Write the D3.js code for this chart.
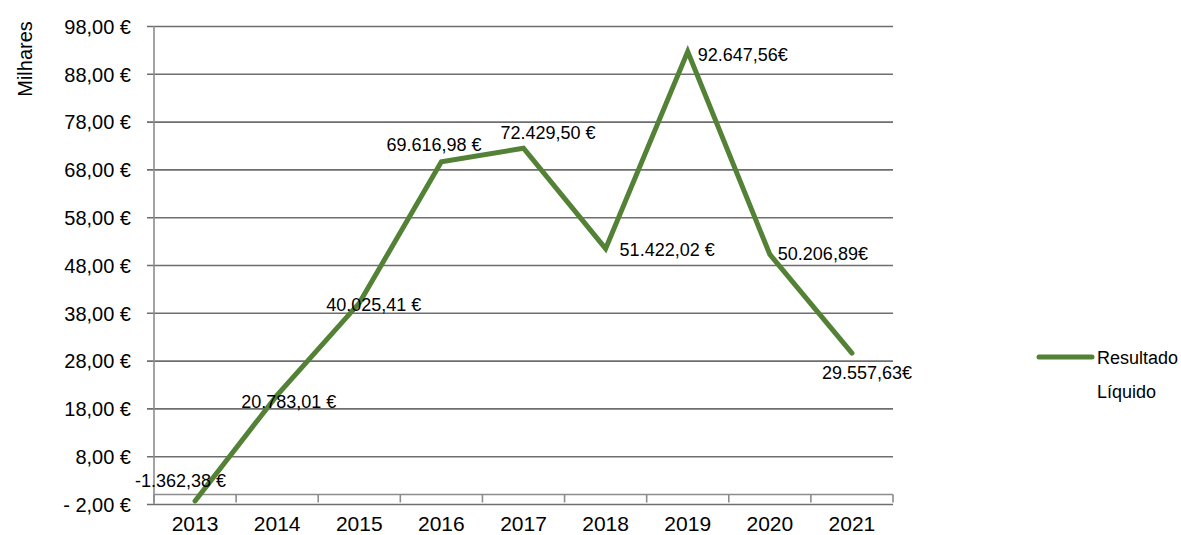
<!DOCTYPE html>
<html>
<head>
<meta charset="utf-8">
<script src="https://cdn.jsdelivr.net/npm/d3@7"></script>
<style>
  body { margin: 0; background: #fff; }
  text { font-family: "Liberation Sans", Arial, sans-serif; fill: #000; }
</style>
</head>
<body>
<div id="chart"></div>
<script>
// data
var years = ["2013", "2014", "2015", "2016", "2017", "2018", "2019", "2020", "2021"];
var resultado = [-1362.38, 20783.01, 40025.41, 69616.98, 72429.50, 51422.02, 92647.56, 50206.89, 29557.63];
var labelSuffix = [" €", " €", " €", " €", " €", " €", "€", "€", "€"];
var yTicks = [-2, 8, 18, 28, 38, 48, 58, 68, 78, 88, 98];
var seriesName = ["Resultado", "Líquido"];

var w = 1181;
var h = 535;
var padding = { top: 26, right: 288, bottom: 31, left: 154 };
var green = "#538135";
// label offsets from the point (dx, dy)
var labelPos = [[-60, -20], [-36, 7], [-33, 2], [-55, -17], [-23, -16], [14, 1], [10, 3], [8, -1], [-30, 20]];

var svg = d3.select("#chart").append("svg").attr("width", w).attr("height", h);

// scales
var xScale = d3.scaleBand().domain(years).range([padding.left, w - padding.right]);
var yScale = d3.scaleLinear().domain([-2, 98]).range([h - padding.bottom, padding.top]);

// grid + y axis
var yAxis = d3.axisLeft(yScale)
  .tickValues(yTicks)
  .tickSize(-(w - padding.right - padding.left))
  .tickFormat(function (d) {
    var s = d3.format(".2f")(Math.abs(d)).replace(".", ",");
    return (d < 0 ? "- " : "") + s + " €";
  });
var gy = svg.append("g")
  .attr("transform", "translate(" + padding.left + ",0)")
  .call(yAxis);
gy.select(".domain").remove();
gy.selectAll(".tick line").attr("stroke", "#6e6e6e").attr("stroke-width", 1.6).attr("x1", -7);
gy.selectAll(".tick text").style("font-size", "20px").attr("x", -23).attr("dy", "0.36em");

// vertical axis line
svg.append("line")
  .attr("x1", padding.left).attr("x2", padding.left)
  .attr("y1", yScale(98)).attr("y2", yScale(-2))
  .attr("stroke", "#8c8c8c").attr("stroke-width", 1.6);

// x axis at zero
var y0 = yScale(0);
svg.append("line")
  .attr("x1", padding.left).attr("x2", w - padding.right)
  .attr("y1", y0).attr("y2", y0)
  .attr("stroke", "#8c8c8c").attr("stroke-width", 1.6);
var bounds = [padding.left].concat(years.map(function (d) { return xScale(d) + xScale.bandwidth(); }));
svg.selectAll(".xtick")
  .data(bounds)
  .enter()
  .append("line")
  .attr("class", "xtick")
  .attr("x1", function (d) { return d; }).attr("x2", function (d) { return d; })
  .attr("y1", y0).attr("y2", y0 + 8)
  .attr("stroke", "#8c8c8c").attr("stroke-width", 1.6);
svg.selectAll(".xlabel")
  .data(years)
  .enter()
  .append("text")
  .attr("class", "xlabel")
  .attr("x", function (d) { return xScale(d) + xScale.bandwidth() / 2; })
  .attr("y", 531)
  .attr("text-anchor", "middle")
  .style("font-size", "21px")
  .text(function (d) { return d; });

// axis title
svg.append("text")
  .attr("transform", "translate(32,59) rotate(-90)")
  .attr("text-anchor", "middle")
  .style("font-size", "20px")
  .text("Milhares");

// line
var px = function (d, i) { return xScale(years[i]) + xScale.bandwidth() / 2; };
var py = function (d) { return yScale(d / 1000); };
var line = d3.line().x(px).y(py);
svg.append("path")
  .datum(resultado)
  .attr("d", line)
  .attr("fill", "none")
  .attr("stroke", green)
  .attr("stroke-width", 5)
  .attr("stroke-linejoin", "miter")
  .attr("stroke-linecap", "round");

// data labels
var fmt = d3.formatLocale({ decimal: ",", thousands: ".", grouping: [3], currency: ["", "€"], minus: "-" }).format(",.2f");
svg.selectAll(".dlabel")
  .data(resultado)
  .enter()
  .append("text")
  .attr("class", "dlabel")
  .attr("x", function (d, i) { return px(d, i) + labelPos[i][0]; })
  .attr("y", function (d, i) { return py(d) + labelPos[i][1]; })
  .attr("dy", "0.35em")
  .style("font-size", "18px")
  .text(function (d, i) { return fmt(d) + labelSuffix[i]; });

// legend
svg.append("line")
  .attr("x1", 1039).attr("x2", 1092)
  .attr("y1", 357).attr("y2", 357)
  .attr("stroke", green).attr("stroke-width", 5).attr("stroke-linecap", "round");
svg.selectAll(".legtext")
  .data(seriesName)
  .enter()
  .append("text")
  .attr("class", "legtext")
  .attr("x", 1097)
  .attr("y", function (d, i) { return 364 + i * 34; })
  .style("font-size", "18px")
  .text(function (d) { return d; });
</script>
</body>
</html>
